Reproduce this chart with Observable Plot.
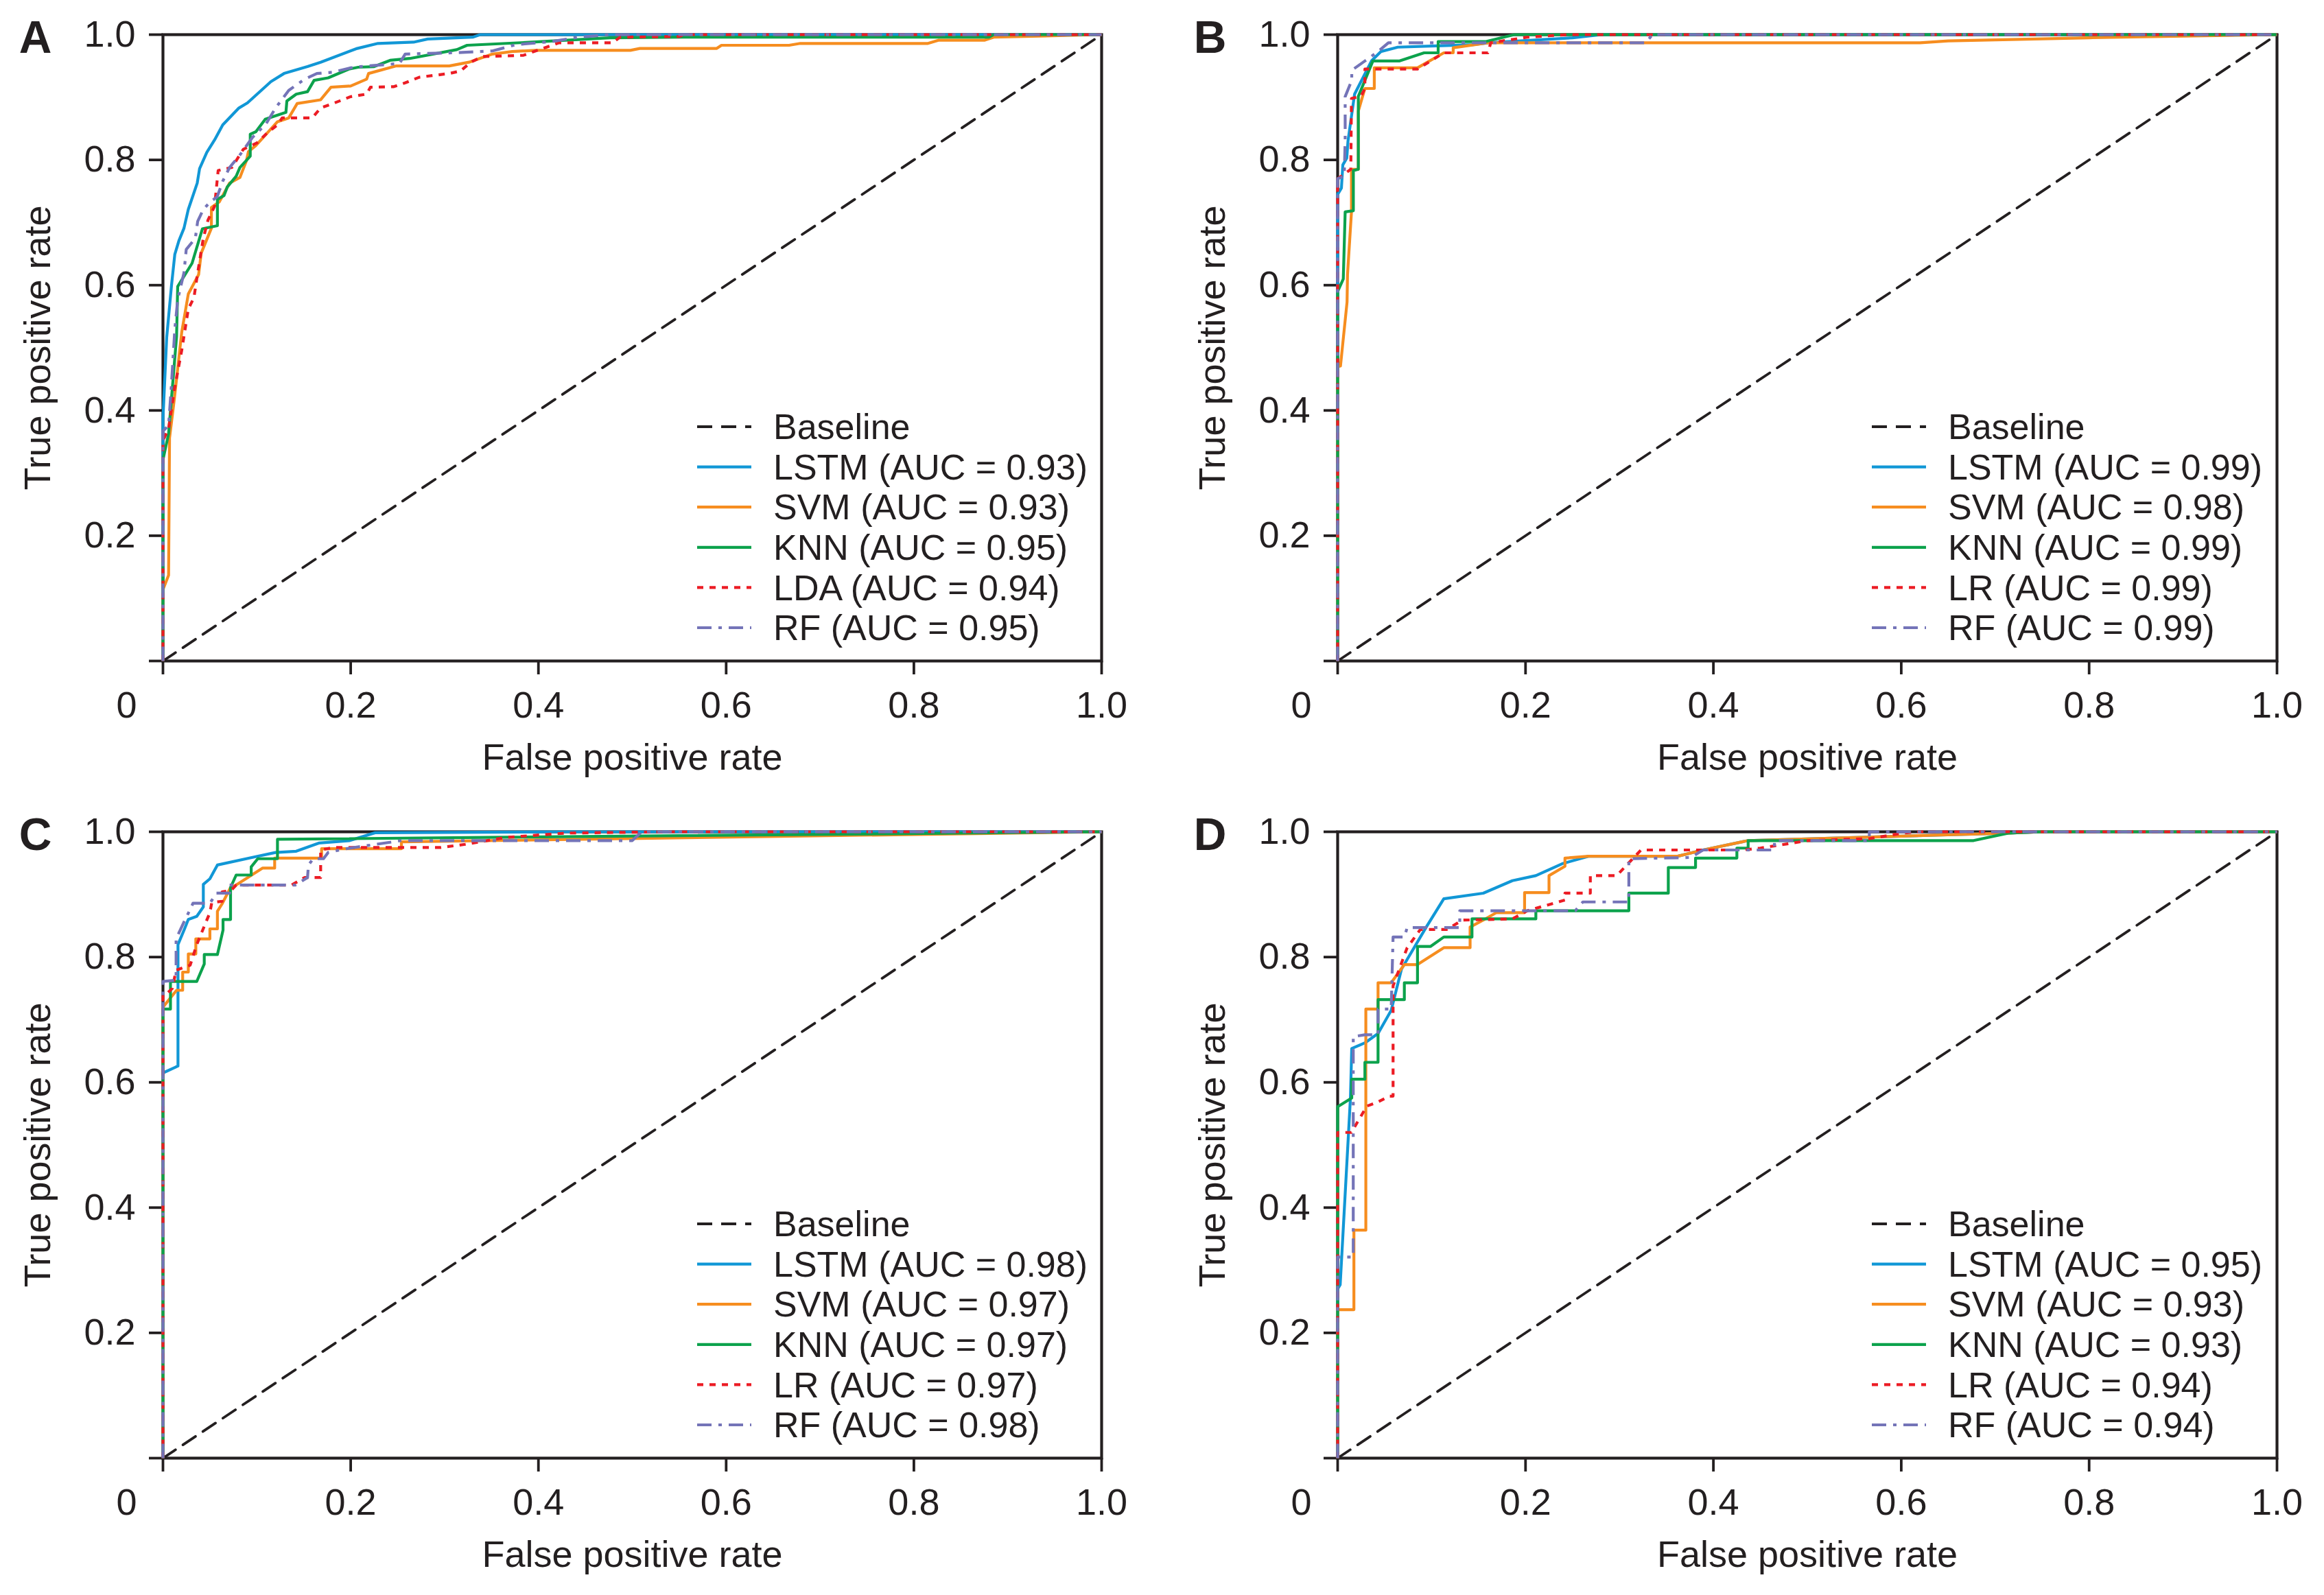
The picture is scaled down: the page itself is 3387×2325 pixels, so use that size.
<!DOCTYPE html>
<html>
<head>
<meta charset="utf-8">
<script src="https://cdn.jsdelivr.net/npm/d3@7"></script>
<script src="https://cdn.jsdelivr.net/npm/@observablehq/plot@0.6"></script>
<style>
  html, body { margin: 0; padding: 0; background: #ffffff; }
  #chart { position: relative; width: 3387px; height: 2325px; background: #ffffff; }
  .panel { position: absolute; }
</style>
</head>
<body>
<div id="chart"></div>
<script>
// ---------------- data ----------------
const TICKS = [0, 0.2, 0.4, 0.6, 0.8, 1.0];
const BASELINE = [[0, 0], [1, 1]];

const MODELS_A = ["LSTM", "SVM", "KNN", "LDA", "RF"];
const MODELS_BCD = ["LSTM", "SVM", "KNN", "LR", "RF"];

const AUC_A = [0.93, 0.93, 0.95, 0.94, 0.95];
const AUC_B = [0.99, 0.98, 0.99, 0.99, 0.99];
const AUC_C = [0.98, 0.97, 0.97, 0.97, 0.98];
const AUC_D = [0.95, 0.93, 0.93, 0.94, 0.94];

// Panel A  [FPR, TPR]
const A_LSTM = [[0,0],[0,0.387],[0.004,0.517],[0.009,0.598],[0.0126,0.649],[0.017,0.671],[0.0224,0.691],[0.027,0.721],[0.0365,0.763],[0.039,0.786],[0.0467,0.812],[0.055,0.832],[0.0637,0.856],[0.081,0.883],[0.09,0.891],[0.115,0.925],[0.129,0.938],[0.154,0.949],[0.168,0.956],[0.207,0.978],[0.229,0.986],[0.267,0.988],[0.282,0.993],[0.33,0.996],[0.338,1],[1,1]];
const A_SVM = [[0,0],[0,0.114],[0.006,0.137],[0.007,0.356],[0.012,0.417],[0.02,0.525],[0.027,0.586],[0.038,0.617],[0.0407,0.651],[0.0516,0.691],[0.0516,0.724],[0.06,0.733],[0.071,0.763],[0.082,0.772],[0.089,0.799],[0.091,0.813],[0.099,0.823],[0.122,0.861],[0.134,0.867],[0.143,0.89],[0.168,0.896],[0.179,0.916],[0.2,0.918],[0.217,0.929],[0.219,0.938],[0.248,0.95],[0.305,0.95],[0.326,0.956],[0.351,0.969],[0.372,0.973],[0.397,0.975],[0.498,0.975],[0.508,0.978],[0.59,0.978],[0.595,0.983],[0.667,0.983],[0.679,0.986],[0.815,0.986],[0.826,0.991],[0.875,0.991],[0.885,0.996],[0.997,1],[1,1]];
const A_KNN = [[0,0],[0,0.321],[0.006,0.363],[0.0145,0.518],[0.0157,0.598],[0.031,0.635],[0.042,0.69],[0.058,0.695],[0.058,0.737],[0.065,0.743],[0.0686,0.757],[0.078,0.774],[0.082,0.788],[0.093,0.806],[0.093,0.841],[0.099,0.845],[0.109,0.865],[0.131,0.876],[0.132,0.894],[0.142,0.905],[0.154,0.909],[0.161,0.927],[0.176,0.931],[0.198,0.945],[0.208,0.948],[0.225,0.949],[0.242,0.959],[0.263,0.962],[0.313,0.976],[0.324,0.983],[0.393,0.988],[0.476,0.995],[0.553,0.996],[0.88,0.996],[0.885,1],[1,1]];
const A_LDA = [[0,0],[0,0.352],[0.006,0.371],[0.012,0.432],[0.02,0.496],[0.027,0.562],[0.033,0.58],[0.037,0.62],[0.043,0.675],[0.048,0.704],[0.055,0.726],[0.0588,0.783],[0.0735,0.788],[0.0856,0.817],[0.1,0.827],[0.111,0.843],[0.122,0.856],[0.127,0.867],[0.159,0.867],[0.168,0.883],[0.181,0.89],[0.2,0.901],[0.217,0.905],[0.221,0.916],[0.246,0.917],[0.258,0.923],[0.273,0.932],[0.305,0.938],[0.317,0.942],[0.328,0.956],[0.34,0.965],[0.384,0.967],[0.397,0.974],[0.422,0.987],[0.479,0.987],[0.487,0.996],[0.55,0.997],[0.555,1],[1,1]];
const A_RF = [[0,0],[0,0.367],[0.006,0.376],[0.009,0.44],[0.0126,0.529],[0.0157,0.577],[0.0224,0.62],[0.0248,0.657],[0.0345,0.675],[0.037,0.702],[0.043,0.721],[0.0504,0.733],[0.0577,0.741],[0.0637,0.766],[0.071,0.788],[0.081,0.806],[0.0954,0.836],[0.11,0.858],[0.12,0.883],[0.134,0.911],[0.151,0.929],[0.164,0.938],[0.181,0.94],[0.2,0.947],[0.21,0.949],[0.252,0.954],[0.258,0.969],[0.309,0.971],[0.351,0.974],[0.376,0.984],[0.414,0.989],[0.443,0.996],[0.476,1],[1,1]];

// Panel B
const B_LSTM = [[0,0],[0,0.745],[0.004,0.755],[0.0055,0.792],[0.0097,0.803],[0.011,0.83],[0.018,0.905],[0.036,0.958],[0.046,0.973],[0.064,0.98],[0.105,0.982],[0.144,0.984],[0.16,0.987],[0.25,0.995],[0.281,1],[1,1]];
const B_SVM = [[0,0],[0,0.47],[0.003,0.471],[0.01,0.573],[0.0105,0.617],[0.0147,0.717],[0.0147,0.785],[0.022,0.785],[0.022,0.878],[0.029,0.914],[0.039,0.914],[0.039,0.947],[0.085,0.947],[0.113,0.971],[0.123,0.971],[0.123,0.979],[0.16,0.987],[0.62,0.987],[0.65,0.99],[0.8,0.995],[1,1]];
const B_KNN = [[0,0],[0,0.59],[0.006,0.61],[0.008,0.717],[0.0167,0.719],[0.0167,0.783],[0.022,0.785],[0.022,0.9015],[0.0375,0.958],[0.066,0.958],[0.092,0.971],[0.107,0.971],[0.107,0.989],[0.158,0.989],[0.188,1],[1,1]];
const B_LR = [[0,0],[0,0.77],[0.004,0.774],[0.014,0.785],[0.0147,0.898],[0.025,0.902],[0.029,0.914],[0.029,0.945],[0.085,0.945],[0.113,0.971],[0.16,0.971],[0.163,0.987],[0.202,0.996],[0.244,1],[1,1]];
const B_RF = [[0,0],[0,0.77],[0.007,0.774],[0.008,0.832],[0.008,0.901],[0.015,0.927],[0.015,0.943],[0.029,0.958],[0.043,0.973],[0.054,0.987],[0.328,0.987],[0.335,1],[1,1]];

// Panel C
const C_LSTM = [[0,0],[0,0.615],[0.016,0.626],[0.016,0.82],[0.023,0.845],[0.027,0.86],[0.036,0.865],[0.043,0.88],[0.043,0.916],[0.05,0.925],[0.058,0.947],[0.098,0.96],[0.12,0.967],[0.142,0.969],[0.166,0.982],[0.199,0.986],[0.226,0.9985],[0.43,1],[1,1]];
const C_SVM = [[0,0],[0,0.72],[0.0145,0.747],[0.021,0.747],[0.021,0.776],[0.027,0.776],[0.027,0.805],[0.035,0.805],[0.035,0.829],[0.05,0.829],[0.05,0.845],[0.058,0.845],[0.058,0.873],[0.063,0.885],[0.072,0.911],[0.078,0.915],[0.106,0.942],[0.119,0.942],[0.119,0.958],[0.169,0.958],[0.169,0.973],[0.254,0.973],[0.254,0.984],[1,1]];
const C_KNN = [[0,0],[0,0.717],[0.008,0.717],[0.008,0.761],[0.036,0.761],[0.044,0.789],[0.044,0.804],[0.058,0.804],[0.064,0.843],[0.064,0.86],[0.072,0.86],[0.072,0.911],[0.078,0.931],[0.094,0.931],[0.094,0.944],[0.101,0.957],[0.122,0.957],[0.122,0.988],[1,1]];
const C_LR = [[0,0],[0,0.74],[0.005,0.743],[0.01,0.75],[0.014,0.779],[0.029,0.787],[0.036,0.82],[0.05,0.871],[0.052,0.887],[0.063,0.889],[0.063,0.904],[0.073,0.907],[0.078,0.915],[0.137,0.915],[0.151,0.927],[0.168,0.927],[0.168,0.971],[0.182,0.975],[0.296,0.975],[0.322,0.98],[0.365,0.991],[0.43,0.998],[0.54,1],[1,1]];
const C_RF = [[0,0],[0,0.761],[0.014,0.763],[0.014,0.829],[0.023,0.858],[0.029,0.876],[0.032,0.886],[0.05,0.886],[0.057,0.902],[0.071,0.902],[0.071,0.915],[0.141,0.915],[0.154,0.927],[0.155,0.947],[0.16,0.957],[0.171,0.957],[0.176,0.967],[0.195,0.973],[0.254,0.986],[0.5,0.986],[0.51,1],[1,1]];

// Panel D
const D_LSTM = [[0,0],[0,0.27],[0.0027,0.277],[0.0136,0.575],[0.015,0.654],[0.029,0.663],[0.043,0.678],[0.057,0.715],[0.068,0.781],[0.094,0.847],[0.113,0.893],[0.155,0.902],[0.186,0.922],[0.211,0.93],[0.239,0.949],[0.267,0.961],[0.362,0.961],[0.389,0.971],[0.437,0.986],[0.714,0.998],[0.75,1],[1,1]];
const D_SVM = [[0,0],[0,0.237],[0.0173,0.237],[0.0173,0.364],[0.03,0.364],[0.03,0.717],[0.043,0.717],[0.043,0.759],[0.057,0.759],[0.071,0.788],[0.085,0.788],[0.113,0.815],[0.141,0.815],[0.141,0.848],[0.155,0.859],[0.169,0.871],[0.199,0.871],[0.199,0.903],[0.225,0.903],[0.225,0.93],[0.242,0.945],[0.242,0.958],[0.267,0.961],[0.362,0.961],[0.389,0.971],[0.437,0.986],[0.714,0.998],[0.75,1],[1,1]];
const D_KNN = [[0,0],[0,0.561],[0.015,0.575],[0.015,0.605],[0.029,0.605],[0.029,0.632],[0.043,0.632],[0.043,0.732],[0.071,0.732],[0.071,0.759],[0.085,0.759],[0.085,0.817],[0.099,0.817],[0.113,0.832],[0.143,0.832],[0.143,0.861],[0.211,0.861],[0.211,0.874],[0.31,0.874],[0.31,0.902],[0.352,0.902],[0.352,0.943],[0.381,0.943],[0.381,0.958],[0.425,0.958],[0.425,0.974],[0.437,0.974],[0.437,0.986],[0.677,0.986],[0.714,0.998],[0.75,1],[1,1]];
const D_LR = [[0,0],[0,0.52],[0.0146,0.52],[0.026,0.549],[0.031,0.562],[0.042,0.568],[0.055,0.578],[0.059,0.578],[0.059,0.754],[0.074,0.815],[0.088,0.844],[0.116,0.844],[0.133,0.859],[0.186,0.861],[0.202,0.874],[0.242,0.891],[0.242,0.902],[0.269,0.902],[0.269,0.93],[0.297,0.93],[0.323,0.971],[0.431,0.971],[0.45,0.974],[0.501,0.986],[0.566,0.989],[0.602,0.998],[0.62,1],[1,1]];
const D_RF = [[0,0],[0,0.321],[0.0166,0.321],[0.0166,0.673],[0.029,0.676],[0.043,0.676],[0.043,0.717],[0.057,0.717],[0.059,0.832],[0.071,0.832],[0.074,0.847],[0.13,0.847],[0.13,0.874],[0.253,0.874],[0.261,0.888],[0.31,0.888],[0.31,0.957],[0.376,0.959],[0.389,0.971],[0.465,0.971],[0.465,0.986],[0.566,0.986],[0.566,1],[1,1]];

// ---------------- styles / layout ----------------
const INK = "#231f20";
const FONT = "'Liberation Sans', Arial, Helvetica, sans-serif";
const SERIES_STYLE = [
  {stroke: "#1197d6"},
  {stroke: "#f68d1f"},
  {stroke: "#0ca24c"},
  {stroke: "#ec1c24", dash: "9,9"},
  {stroke: "#7474b8", dash: "21,10,5,10"}
];
const BASE_STYLE = {stroke: INK, dash: "22,13"};
const LW = 4.2;

const PANEL_SPECS = [
  {letter: "A", left: 0,    top: 0,    width: 1693, height: 1162, ml: 237, mr: 88, mt: 50, mb: 199, models: MODELS_A,   auc: AUC_A, curves: [A_LSTM, A_SVM, A_KNN, A_LDA, A_RF]},
  {letter: "B", left: 1693, top: 0,    width: 1694, height: 1162, ml: 256, mr: 69, mt: 50, mb: 199, models: MODELS_BCD, auc: AUC_B, curves: [B_LSTM, B_SVM, B_KNN, B_LR, B_RF]},
  {letter: "C", left: 0,    top: 1162, width: 1693, height: 1163, ml: 237, mr: 88, mt: 50, mb: 200, models: MODELS_BCD, auc: AUC_C, curves: [C_LSTM, C_SVM, C_KNN, C_LR, C_RF]},
  {letter: "D", left: 1693, top: 1162, width: 1694, height: 1163, ml: 256, mr: 69, mt: 50, mb: 200, models: MODELS_BCD, auc: AUC_D, curves: [D_LSTM, D_SVM, D_KNN, D_LR, D_RF]}
];

// legend layout (pixels from the frame's top-left corner)
const LEG = {x0: 779, len: 79, tx: 890, y0: 572, step: 58.6, fontSize: 52};

function legendMark(entries) {
  return (index, scales, values, dims) => {
    const g = d3.create("svg:g");
    entries.forEach((e, i) => {
      const y = dims.marginTop + LEG.y0 + i * LEG.step;
      const x0 = dims.marginLeft + LEG.x0;
      const ln = g.append("line")
        .attr("x1", x0).attr("x2", x0 + LEG.len)
        .attr("y1", y).attr("y2", y)
        .attr("stroke", e.stroke).attr("stroke-width", LW);
      if (e.dash) ln.attr("stroke-dasharray", e.dash);
      g.append("text")
        .attr("x", dims.marginLeft + LEG.tx).attr("y", y).attr("dy", "0.35em")
        .attr("text-anchor", "start")
        .attr("fill", INK).attr("font-size", LEG.fontSize).attr("font-family", FONT)
        .text(e.label);
    });
    return g.node();
  };
}

const fmt = d3.format(".1f");
const fmtAuc = d3.format(".2f");

function makePanel(spec) {
  const legendEntries = [{label: "Baseline", ...BASE_STYLE}].concat(
    spec.models.map((m, i) => ({label: `${m} (AUC = ${fmtAuc(spec.auc[i])})`, ...SERIES_STYLE[i]}))
  );
  const curveMarks = spec.curves.map((pts, i) =>
    Plot.line(pts, {
      x: d => d[0], y: d => d[1],
      stroke: SERIES_STYLE[i].stroke,
      strokeWidth: LW,
      strokeDasharray: SERIES_STYLE[i].dash,
      strokeLinejoin: "round",
      strokeLinecap: "butt"
    })
  );
  return Plot.plot({
    width: spec.width,
    height: spec.height,
    marginLeft: spec.ml, marginRight: spec.mr, marginTop: spec.mt, marginBottom: spec.mb,
    style: {fontFamily: FONT, fontSize: "54px", color: INK, background: "white", overflow: "visible"},
    x: {domain: [0, 1]},
    y: {domain: [0, 1]},
    marks: [
      Plot.axisX({ticks: TICKS, tickSize: 20, tickPadding: 24, strokeWidth: 3.8, tickFormat: d => d === 0 ? "" : fmt(d), label: null, fontSize: 54}),
      Plot.axisY({ticks: TICKS, tickSize: 20, tickPadding: 20, strokeWidth: 3.8, tickFormat: d => d === 0 ? "" : fmt(d), label: null, fontSize: 54}),
      Plot.frame({stroke: INK, strokeWidth: 4.2}),
      Plot.line(BASELINE, {x: d => d[0], y: d => d[1], stroke: BASE_STYLE.stroke, strokeWidth: 3.8, strokeDasharray: BASE_STYLE.dash}),
      ...curveMarks,
      Plot.text(["0"], {frameAnchor: "bottom-left", textAnchor: "middle", dx: -53, dy: 44, lineAnchor: "top", fontSize: 54, fill: INK}),
      Plot.text(["False positive rate"], {frameAnchor: "bottom", textAnchor: "middle", dy: 158, lineAnchor: "bottom", fontSize: 54, fill: INK}),
      Plot.text(["True positive rate"], {frameAnchor: "left", textAnchor: "middle", dx: -165, rotate: -90, lineAnchor: "bottom", fontSize: 54, fill: INK}),
      Plot.text([spec.letter], {frameAnchor: "top-left", textAnchor: "middle", dx: -186, dy: 5, lineAnchor: "middle", fontSize: 66, fontWeight: "bold", fill: INK}),
      legendMark(legendEntries)
    ]
  });
}

const root = document.getElementById("chart");
for (const spec of PANEL_SPECS) {
  const div = document.createElement("div");
  div.className = "panel";
  div.style.left = spec.left + "px";
  div.style.top = spec.top + "px";
  div.appendChild(makePanel(spec));
  root.appendChild(div);
}
</script>
</body>
</html>
